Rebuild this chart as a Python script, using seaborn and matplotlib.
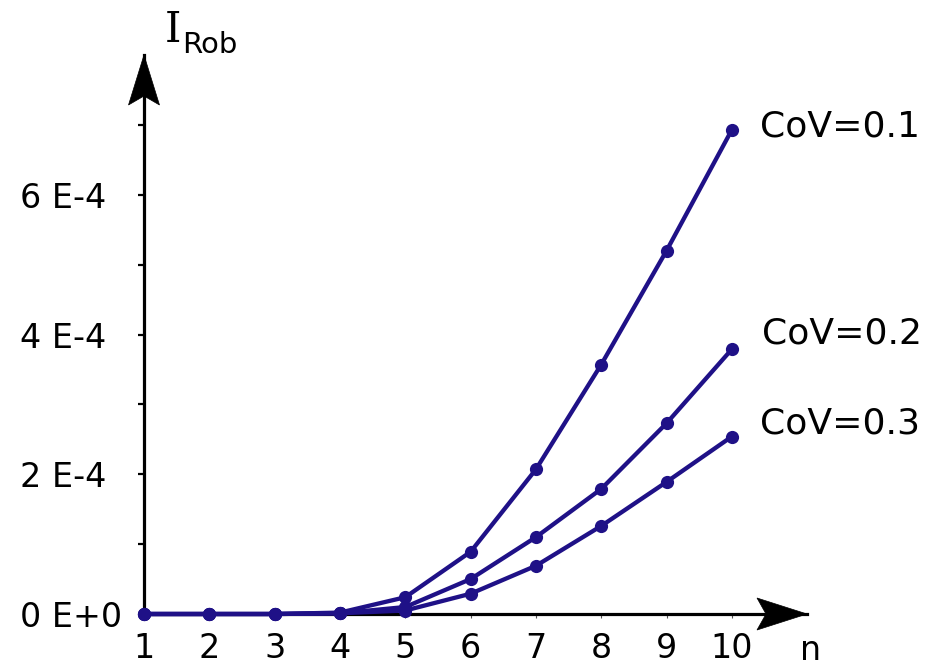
import numpy as np
import pandas as pd
import seaborn as sns
import matplotlib
matplotlib.use("Agg")
import matplotlib.pyplot as plt
import matplotlib.transforms as mtransforms
from matplotlib.patches import Polygon

# Number of elements n
n_values = [1, 2, 3, 4, 5, 6, 7, 8, 9, 10]

# Robustness index per coefficient of variation
irob_cov01 = [0.0, 0.0, 0.0, 0.02e-4, 0.24e-4, 0.89e-4, 2.07e-4, 3.57e-4, 5.20e-4, 6.93e-4]
irob_cov02 = [0.0, 0.0, 0.0, 0.01e-4, 0.10e-4, 0.50e-4, 1.10e-4, 1.79e-4, 2.73e-4, 3.79e-4]
irob_cov03 = [0.0, 0.0, 0.0, 0.01e-4, 0.05e-4, 0.29e-4, 0.69e-4, 1.26e-4, 1.89e-4, 2.54e-4]

series_labels = ["CoV=0.1", "CoV=0.2", "CoV=0.3"]
label_offsets = [(28, 3), (30, 16), (28, 13)]  # pixel offsets of series labels

y_major = [0, 2e-4, 4e-4, 6e-4]
y_major_labels = ["0 E+0", "2 E-4", "4 E-4", "6 E-4"]
y_minor = [1e-4, 3e-4, 5e-4, 7e-4]

LINE_COLOR = "#1f1187"

df = pd.concat(
    [
        pd.DataFrame({"n": n_values, "irob": vals, "series": lab})
        for vals, lab in zip([irob_cov01, irob_cov02, irob_cov03], series_labels)
    ],
    ignore_index=True,
)

sns.set_theme(style="white")
plt.rcParams["font.family"] = ["DejaVu Sans"]
plt.rcParams["text.color"] = "black"
plt.rcParams["xtick.labelcolor"] = "black"
plt.rcParams["ytick.labelcolor"] = "black"

W, H = 931, 667
fig = plt.figure(figsize=(W / 100, H / 100), dpi=100)
ax_left, ax_right, ax_bottom, ax_top = 144, 807, 614, 55
ax = fig.add_axes([ax_left / W, 1 - ax_bottom / H,
                   (ax_right - ax_left) / W, (ax_bottom - ax_top) / H])
axw, axh = ax_right - ax_left, ax_bottom - ax_top

sns.lineplot(
    data=df, x="n", y="irob", hue="series",
    palette=[LINE_COLOR] * 3, marker="o", markersize=9.5,
    markeredgewidth=0, markeredgecolor=LINE_COLOR,
    linewidth=3.1, legend=False, ax=ax, clip_on=False, zorder=5,
)

ax.set_xlim(1, 11.15)
ax.set_ylim(0, 8e-4)
ax.set_xlabel("")
ax.set_ylabel("")

# Axes lines
for side in ["top", "right"]:
    ax.spines[side].set_visible(False)
for side in ["left", "bottom"]:
    ax.spines[side].set_linewidth(2.3)
    ax.spines[side].set_color("black")
    ax.spines[side].set_zorder(3)

# Ticks
ax.set_xticks(n_values)
ax.set_xticklabels([str(v) for v in n_values])
ax.tick_params(axis="x", which="major", direction="out", length=3, width=0.8,
               color="#555555", labelsize=24, pad=10, bottom=True,
               labelcolor="black")
ax.set_yticks(y_major)
ax.set_yticklabels(y_major_labels)
ax.set_yticks(y_minor, minor=True)
ax.tick_params(axis="y", which="both", direction="out", length=4, width=1.6,
               color="black", left=True)
ax.tick_params(axis="y", which="major", labelsize=24, pad=85, labelcolor="black")
for lbl in ax.get_yticklabels():
    lbl.set_horizontalalignment("left")

# Arrowheads at the ends of both axes (vertices in pixels relative to the tip)
def arrowhead(verts, tip_axes):
    trans = mtransforms.Affine2D() + mtransforms.ScaledTranslation(
        tip_axes[0], tip_axes[1], ax.transAxes)
    p = Polygon(verts, closed=True, facecolor="black", edgecolor="black",
                linewidth=0.5, transform=trans, clip_on=False, zorder=6)
    ax.add_patch(p)

arrowhead([(0, 0), (-15.5, -50), (0, -41), (15.5, -50)], (0, 1))
arrowhead([(0, 0), (-50, 16), (-41, 0), (-50, -16)], (1, 0))

# Axis titles
ax.text((165 - ax_left) / axw, (ax_bottom - 42) / axh, "I",
        family="DejaVu Serif", fontsize=30, transform=ax.transAxes,
        ha="left", va="baseline", color="black")
ax.text((182 - ax_left) / axw, (ax_bottom - 53) / axh, "Rob",
        fontsize=21, transform=ax.transAxes, ha="left", va="baseline",
        color="black")
ax.text((800 - ax_left) / axw, -(651 - ax_bottom) / axh, "n",
        fontsize=24, transform=ax.transAxes, ha="left", va="center",
        color="black")

# Series labels next to the last point of each curve
for vals, lab, off in zip([irob_cov01, irob_cov02, irob_cov03], series_labels, label_offsets):
    ax.annotate(lab, xy=(n_values[-1], vals[-1]), xytext=off,
                textcoords="offset pixels", fontsize=26, ha="left", va="center",
                annotation_clip=False, color="black")

fig.savefig("out.png", dpi=100)
